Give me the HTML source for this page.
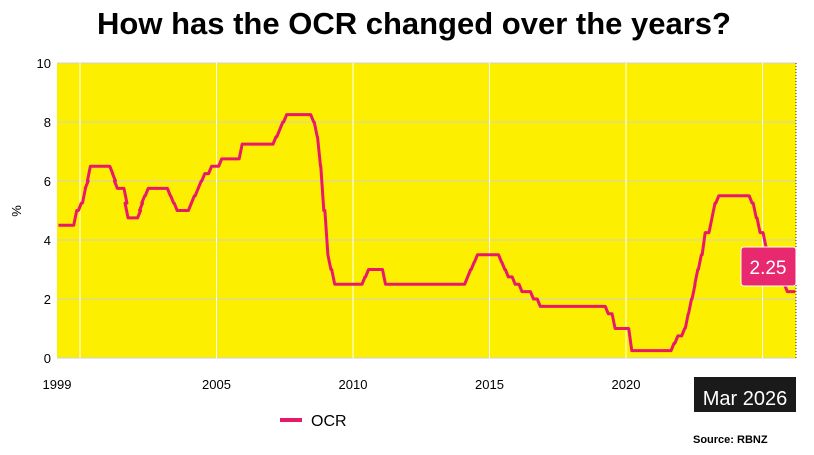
<!DOCTYPE html>
<html><head><meta charset="utf-8"><style>
body{margin:0;width:814px;height:455px;background:#fff;overflow:hidden;font-family:"Liberation Sans",sans-serif}
svg{display:block}
</style></head><body>
<svg id="chart" width="814" height="455">
<text x="414" y="34" text-anchor="middle" font-size="31" font-weight="bold" fill="#000">How has the OCR changed over the years?</text>
<rect x="57" y="63" width="739" height="295" fill="#fdef00"/>
<g id="grid"></g>
<g id="axes"></g>
<path id="line" fill="none" stroke="#e8196b" stroke-width="3" stroke-linejoin="round"/>
<line x1="796" y1="63" x2="796" y2="358" stroke="#333" stroke-dasharray="1,2"/>
<g>
<rect x="741" y="247" width="55" height="39" rx="3" fill="#e8286f" stroke="#fff"/>
<text x="768" y="274" text-anchor="middle" font-size="19" fill="#fff">2.25</text>
</g>
<g>
<rect x="694" y="377" width="102" height="35" fill="#1a1a1a"/>
<text x="745" y="405" text-anchor="middle" font-size="20" fill="#fff">Mar 2026</text>
</g>
<text transform="translate(21,211) rotate(-90)" text-anchor="middle" font-size="13" fill="#000">%</text>
<line x1="280" y1="420" x2="302" y2="420" stroke="#e8196b" stroke-width="4"/>
<text x="311" y="426" font-size="16" fill="#000">OCR</text>
<text x="693" y="443" font-size="11" font-weight="bold" fill="#000">Source: RBNZ</text>
</svg>
<script>
const dates=[1999.21,1999.88,2000.05,2000.2,2000.3,2000.38,2001.2,2001.3,2001.37,2001.72,2001.76,2002.22,2002.29,2002.37,2002.5,2003.31,2003.43,2003.56,2004.08,2004.19,2004.33,2004.44,2004.57,2004.82,2005.19,2005.94,2007.18,2007.32,2007.43,2007.57,2008.56,2008.69,2008.81,2008.93,2009.08,2009.19,2009.33,2010.44,2010.57,2011.19,2014.2,2014.31,2014.44,2014.56,2015.44,2015.56,2015.69,2015.94,2016.19,2016.61,2016.86,2019.35,2019.6,2020.21,2021.76,2021.9,2022.15,2022.28,2022.4,2022.53,2022.63,2022.76,2022.9,2023.15,2023.26,2023.4,2024.62,2024.77,2024.91,2025.13,2025.27,2025.41,2025.64,2025.77,2025.91,2026.2];
const values=[4.5,5.0,5.25,5.75,6.0,6.5,6.25,6.0,5.75,5.25,4.75,5.0,5.25,5.5,5.75,5.5,5.25,5.0,5.25,5.5,5.75,6.0,6.25,6.5,6.75,7.25,7.5,7.75,8.0,8.25,8.0,7.5,6.5,5.0,3.5,3.0,2.5,2.75,3.0,2.5,2.75,3.0,3.25,3.5,3.25,3.0,2.75,2.5,2.25,2.0,1.75,1.5,1.0,0.25,0.5,0.75,1.0,1.5,2.0,2.5,3.0,3.5,4.25,4.75,5.25,5.5,5.25,4.75,4.25,3.75,3.5,3.25,3.0,2.5,2.25,2.25];
const yTicks=[0,2,4,6,8,10];
const xGrid=[2000,2005,2010,2015,2020,2025];
const xLabels=["1999","2005","2010","2015","2020","2025"];
const xLabelYears=[1999.21,2005,2010,2015,2020,2025];
const x=t=>80+(t-2000)*27.3;
const y=v=>358-v*29.5;
const NS="http://www.w3.org/2000/svg";
const grid=document.getElementById('grid'),axes=document.getElementById('axes');
yTicks.forEach(v=>{
 const l=document.createElementNS(NS,'line');
 l.setAttribute('x1',57);l.setAttribute('x2',796);l.setAttribute('y1',y(v));l.setAttribute('y2',y(v));
 l.setAttribute('stroke','#d0d0d0');l.setAttribute('stroke-width',1);
 
 
 grid.appendChild(l);
 const t=document.createElementNS(NS,'text');
 t.setAttribute('x',51);t.setAttribute('y',y(v)+5);t.setAttribute('text-anchor','end');t.setAttribute('font-size',13);
 t.textContent=v;
 
 
 axes.appendChild(t);
});
xGrid.forEach(g=>{
 const l=document.createElementNS(NS,'line');
 l.setAttribute('x1',x(g));l.setAttribute('x2',x(g));l.setAttribute('y1',63);l.setAttribute('y2',358);
 l.setAttribute('stroke','#fff');l.setAttribute('stroke-width',1);
 
 
 grid.appendChild(l);
});
xLabels.forEach((s,i)=>{
 const t=document.createElementNS(NS,'text');
 t.setAttribute('x',i===0?57:x(xLabelYears[i]));t.setAttribute('y',389);t.setAttribute('text-anchor','middle');t.setAttribute('font-size',13);
 t.textContent=s;
 
 
 axes.appendChild(t);
});
let d='';
dates.forEach((t,i)=>{
 if(i===0){d+='M'+x(t)+','+y(values[i]);}
 else{d+=' L'+(x(t)-3)+','+y(values[i-1])+' L'+x(t)+','+y(values[i]);}
});
document.getElementById('line').setAttribute('d',d);
</script>
</body></html>
